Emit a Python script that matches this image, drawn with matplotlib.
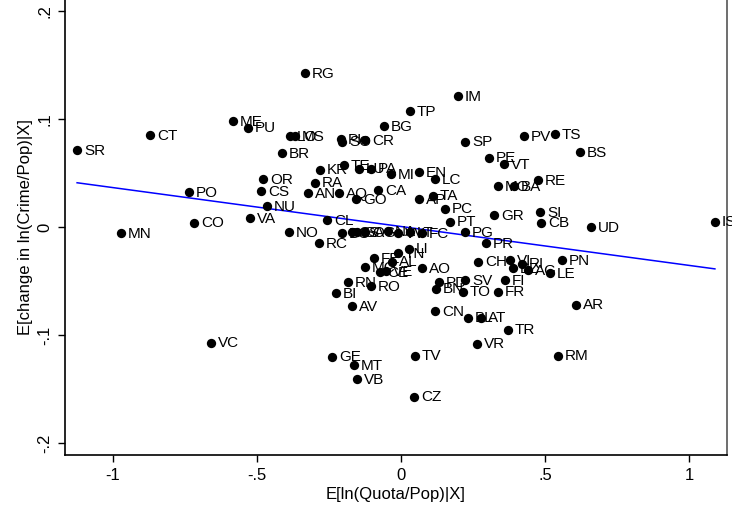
import numpy as np
import matplotlib
matplotlib.use("Agg")
import matplotlib.pyplot as plt

plt.rcParams['font.family'] = ['Liberation Sans', 'DejaVu Sans']

# 県コードと偏残差 (x: E[ln(Quota/Pop)|X], y: E[change in ln(Crime/Pop)|X])
labels = ["RG", "ME", "PU", "CT", "SR", "LO", "MS", "BR", "KR", "RA",
          "OR", "CS", "PO", "AN", "AQ", "NU", "VA", "CO", "MN", "NO",
          "RC", "CL", "GO", "CA", "TE", "LU", "PA", "MI", "EN", "LC",
          "TA", "AP", "PC", "PT", "GR", "PG", "PR", "SP", "PE", "VT",
          "PV", "TS", "BS", "MO", "BA", "RE", "SI", "CB", "UD", "IS",
          "IM", "TP", "BG", "CR", "PI", "SO", "BO", "SS", "SA", "OG",
          "NA", "VV", "LT", "FC", "LI", "TN", "FE", "MC", "AL", "CE",
          "VE", "AO", "RN", "RO", "BI", "AV", "CN", "PD", "BN", "SV",
          "TO", "CH", "VI", "RI", "BZ", "AG", "PN", "LE", "FI", "FR",
          "AR", "BL", "AT", "TR", "VR", "TV", "RM", "CZ", "VC", "GE",
          "MT", "VB"]
x_quota = [-0.333, -0.583, -0.531, -0.872, -1.125, -0.385, -0.368, -0.413, -0.281, -0.299,
           -0.479, -0.486, -0.736, -0.323, -0.215, -0.465, -0.524, -0.719, -0.972, -0.389,
           -0.285, -0.257, -0.156, -0.080, -0.198, -0.146, -0.104, -0.035, 0.063, 0.118,
           0.111, 0.063, 0.153, 0.170, 0.323, 0.222, 0.295, 0.222, 0.306, 0.358,
           0.427, 0.535, 0.622, 0.337, 0.392, 0.476, 0.483, 0.486, 0.660, 1.090,
           0.198, 0.031, -0.059, -0.125, -0.208, -0.205, -0.205, -0.170, -0.153, -0.125,
           -0.045, -0.010, 0.031, 0.073, 0.028, -0.010, -0.094, -0.125, -0.031, -0.073,
           -0.052, 0.073, -0.184, -0.104, -0.226, -0.170, 0.118, 0.132, 0.122, 0.222,
           0.215, 0.267, 0.378, 0.420, 0.389, 0.441, 0.559, 0.517, 0.361, 0.337,
           0.608, 0.233, 0.278, 0.372, 0.264, 0.049, 0.545, 0.045, -0.660, -0.240,
           -0.163, -0.153]
y_crime = [0.142, 0.098, 0.092, 0.085, 0.071, 0.084, 0.084, 0.068, 0.053, 0.041,
           0.044, 0.033, 0.032, 0.031, 0.031, 0.019, 0.008, 0.004, -0.006, -0.005,
           -0.015, 0.006, 0.026, 0.034, 0.057, 0.054, 0.054, 0.049, 0.051, 0.044,
           0.029, 0.026, 0.017, 0.005, 0.011, -0.005, -0.015, 0.079, 0.064, 0.058,
           0.084, 0.086, 0.069, 0.038, 0.038, 0.043, 0.014, 0.004, 0.000, 0.005,
           0.121, 0.107, 0.093, 0.080, 0.081, 0.079, -0.006, -0.005, -0.005, -0.005,
           -0.004, -0.006, -0.005, -0.006, -0.020, -0.024, -0.029, -0.037, -0.032, -0.042,
           -0.041, -0.038, -0.051, -0.055, -0.061, -0.073, -0.078, -0.051, -0.057, -0.049,
           -0.060, -0.032, -0.031, -0.034, -0.038, -0.040, -0.031, -0.043, -0.049, -0.060,
           -0.072, -0.084, -0.084, -0.095, -0.108, -0.119, -0.119, -0.157, -0.107, -0.120,
           -0.128, -0.141]

x_ticks = [-1, -0.5, 0, 0.5, 1]
x_ticklabels = ["-1", "-.5", "0", ".5", "1"]
y_ticks = [-0.2, -0.1, 0, 0.1, 0.2]
y_ticklabels = ["-.2", "-.1", "0", ".1", ".2"]

x = np.array(x_quota)
y = np.array(y_crime)

fig = plt.figure(figsize=(7.32, 5.12), dpi=100)
ax = fig.add_axes([65 / 732, 57 / 512, 662 / 732, 455 / 512])

ax.scatter(x, y, s=45, color='black', zorder=3, linewidths=0)
for lab, xi, yi in zip(labels, x, y):
    ax.annotate(lab, (xi, yi), xytext=(5, -0.5), textcoords='offset points',
                va='center', ha='left', fontsize=11, color='black', zorder=4)

# 回帰直線
b, a = np.polyfit(x, y, 1)
xs = np.array([x.min(), x.max()])
ax.plot(xs, a + b * xs, color='blue', lw=1.1, zorder=2)

ax.set_xlim(-1.167, 1.132)
ax.set_ylim(-0.211, 0.210)
ax.set_xticks(x_ticks)
ax.set_xticklabels(x_ticklabels, fontsize=12)
ax.set_yticks(y_ticks)
ax.set_yticklabels(y_ticklabels, fontsize=12, rotation=90, va='center')
ax.tick_params(direction='out', length=5, width=1, pad=4)

ax.spines['top'].set_visible(False)
ax.spines['right'].set_color('#555555')
ax.spines['left'].set_linewidth(1.2)
ax.spines['bottom'].set_linewidth(1.2)
ax.spines['right'].set_linewidth(1.2)

ax.set_xlabel("E[ln(Quota/Pop)|X]", fontsize=12, labelpad=3)
ax.set_ylabel("E[change in ln(Crime/Pop)|X]", fontsize=12, labelpad=3)

fig.savefig("out.png", dpi=100)
